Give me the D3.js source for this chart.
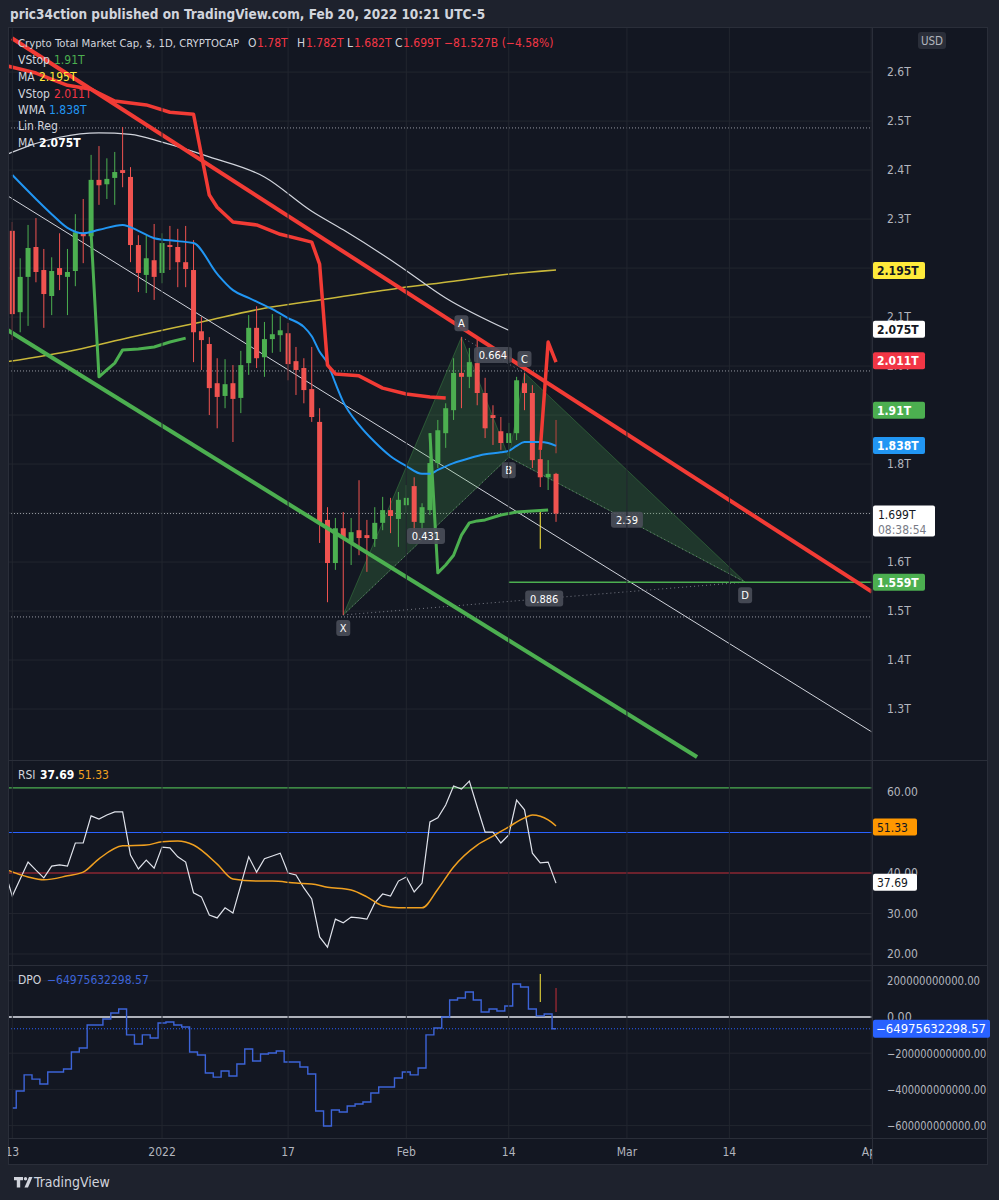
<!DOCTYPE html>
<html>
<head>
<meta charset="utf-8">
<script src="https://cdn.jsdelivr.net/npm/d3@7"></script>
<style>
  body { margin: 0; background: #1e222d; }
  text { font-family: 'Liberation Sans Narrow', 'DejaVu Sans Condensed', 'Roboto', sans-serif; }
</style>
</head>
<body>
<svg id="chart"></svg>
<script>
// ---- data (prices in trillions, index 0 = Dec 13 2021, one candle per day)
const startDate = '2021-12-13'
const candles = [ // open, high, low, close
  [2.276, 2.294, 2.053, 2.106], [2.110, 2.220, 2.069, 2.182], [2.182, 2.288, 2.082, 2.241], [2.243, 2.302, 2.171, 2.192],
  [2.196, 2.239, 2.078, 2.147], [2.143, 2.222, 2.104, 2.194], [2.200, 2.271, 2.155, 2.186], [2.182, 2.239, 2.104, 2.192],
  [2.194, 2.310, 2.163, 2.273], [2.271, 2.341, 2.210, 2.265], [2.265, 2.431, 2.257, 2.380], [2.380, 2.449, 2.329, 2.369],
  [2.371, 2.424, 2.341, 2.382], [2.384, 2.437, 2.329, 2.396], [2.400, 2.488, 2.365, 2.394], [2.386, 2.406, 2.212, 2.247],
  [2.247, 2.267, 2.151, 2.190], [2.186, 2.267, 2.149, 2.220], [2.216, 2.290, 2.135, 2.182], [2.190, 2.271, 2.169, 2.251],
  [2.247, 2.286, 2.196, 2.243], [2.243, 2.280, 2.161, 2.212], [2.212, 2.286, 2.161, 2.198], [2.196, 2.257, 2.008, 2.069],
  [2.071, 2.100, 1.992, 2.053], [2.045, 2.059, 1.900, 1.955], [1.965, 2.016, 1.873, 1.937], [1.939, 2.014, 1.914, 1.963],
  [1.965, 2.002, 1.845, 1.933], [1.935, 2.031, 1.904, 2.002], [2.006, 2.104, 1.982, 2.078], [2.078, 2.122, 1.996, 2.016],
  [2.018, 2.090, 1.978, 2.055], [2.055, 2.106, 2.027, 2.065], [2.063, 2.102, 2.029, 2.073], [2.067, 2.088, 1.971, 2.004],
  [2.010, 2.039, 1.941, 1.992], [1.996, 2.016, 1.924, 1.951], [1.953, 2.039, 1.886, 1.896], [1.886, 1.914, 1.639, 1.680],
  [1.686, 1.712, 1.518, 1.598], [1.598, 1.690, 1.584, 1.669], [1.669, 1.702, 1.492, 1.651], [1.641, 1.690, 1.594, 1.661],
  [1.665, 1.767, 1.614, 1.649], [1.655, 1.686, 1.580, 1.649], [1.647, 1.712, 1.631, 1.680], [1.680, 1.733, 1.665, 1.706],
  [1.706, 1.731, 1.659, 1.694], [1.688, 1.743, 1.631, 1.727], [1.716, 1.757, 1.700, 1.731], [1.755, 1.773, 1.659, 1.682],
  [1.680, 1.720, 1.665, 1.712], [1.706, 1.863, 1.696, 1.802], [1.802, 1.890, 1.792, 1.869], [1.863, 1.924, 1.833, 1.914],
  [1.910, 2.016, 1.890, 1.986], [1.986, 2.059, 1.914, 1.978], [1.978, 2.037, 1.955, 2.008], [2.006, 2.057, 1.920, 1.945],
  [1.945, 1.976, 1.853, 1.873], [1.900, 1.920, 1.839, 1.894], [1.867, 1.896, 1.829, 1.843], [1.843, 1.884, 1.814, 1.863],
  [1.863, 1.978, 1.849, 1.971], [1.965, 1.986, 1.910, 1.945], [1.945, 1.961, 1.792, 1.808], [1.810, 1.829, 1.753, 1.773],
  [1.773, 1.808, 1.747, 1.780], [1.780, 1.782, 1.682, 1.699]
]
// indicator samples: [candle index, value]
const wma = [[0,2.390],[3,2.341],[5,2.310],[7,2.282],[9,2.271],[11,2.278],[14,2.288],[16,2.276],[18,2.261],[21,2.255],
  [23,2.251],[26,2.188],[28,2.155],[30,2.139],[33,2.116],[35,2.098],[37,2.080],[38,2.061],[39,2.029],[40,2.006],[41,1.965],
  [42,1.927],[44,1.880],[46,1.845],[48,1.816],[50,1.796],[52,1.780],[53,1.780],[54,1.788],[56,1.802],[58,1.812],[60,1.820],
  [62,1.824],[63,1.827],[64,1.837],[65,1.845],[67,1.845],[68,1.843],[69,1.837]]
const maYellow = [[-1,2.008],[8,2.033],[15,2.059],[24,2.090],[32,2.118],[39,2.135],[49,2.159],[56,2.173],[62,2.186],[69,2.196]]
const maWhite = [[-1,2.430],[2,2.449],[6,2.467],[11,2.476],[15,2.473],[19,2.457],[25,2.427],[32,2.386],[38,2.316],[42,2.278],
  [49,2.206],[55,2.139],[63,2.073]]
const vstopRed = [[-1,2.614],[3,2.598],[7,2.573],[10,2.565],[13,2.541],[17,2.533],[20,2.518],[23,2.514],[24,2.431],[25,2.349],
  [26,2.324],[28,2.294],[31,2.288],[34,2.269],[37,2.257],[38,2.253],[39,2.208],[40,2.002],[41,1.984],[44,1.980],[47,1.955],
  [50,1.943],[53,1.937],[55,1.935]]
const vstopRed2 = [[67,1.829],[68,2.049],[69,2.008]]
const vstopGreen = [[10,2.271],[11,1.978],[12,1.992],[13,2.006],[14,2.033],[16,2.035],[18,2.039],[20,2.049],[22,2.057]]
const vstopGreen2 = [[53,1.863],[54,1.578],[55,1.594],[56,1.614],[57,1.655],[58,1.680],[59,1.684],[60,1.686],[62,1.696],
  [64,1.702],[66,1.704],[68,1.706]]
const trendRed = [[-0.04,2.669],[109.1,1.539]]
const trendGreen = [[-0.55,2.073],[86.9,1.202]]
const linReg = [[-0.55,2.347],[109.1,1.253]]
const levelLines = [2.486, 1.990, 1.699, 1.488]
const markers = [[67,1.706,1.627,'#ffeb3b'],[69,1.890,1.822,'#b7463f']]
const pattern = [['X',42,1.492],['A',57,2.059],['B',63,1.814],['C',65,1.986],['D',93,1.559]]
const ratios = [['0.431','X','B'],['0.664','A','C'],['2.59','B','D'],['0.886','X','D']]
const priceTicks = [2.6,2.5,2.4,2.3,2.2,2.1,2.0,1.9,1.8,1.7,1.6,1.5,1.4,1.3]
const priceLabels = [2.6,2.5,2.4,2.3,2.1,2.0,1.8,1.6,1.5,1.4,1.3]
const priceTags = [[2.195,'2.195T','#ffeb3b','#131722'],[2.075,'2.075T','#ffffff','#131722'],[2.011,'2.011T','#f23645','#ffffff'],
  [1.91,'1.91T','#4caf50','#ffffff'],[1.838,'1.838T','#2196f3','#ffffff'],[1.559,'1.559T','#4caf50','#ffffff']]
const timeTicks = [['2021-12-13','13'],['2022-01-01','2022'],['2022-01-17','17'],['2022-02-01','Feb'],['2022-02-14','14'],
  ['2022-03-01','Mar'],['2022-03-14','14'],['2022-04-01','Apr']]
// RSI: first value is Dec 12
const rsi = [40.7,34.3,38.5,42.7,40.7,38.8,41.7,42.0,41.7,47.4,47.4,54.1,53.3,54.3,55.1,55.1,44.4,41.0,43.2,41.2,46.4,46.2,
  44.0,42.7,35.1,34.1,29.6,28.9,31.4,30.1,37.0,44.0,40.2,43.5,44.2,44.9,40.0,39.5,36.3,33.6,24.2,21.7,28.6,27.7,29.1,28.9,
  28.6,32.6,34.8,34.3,38.0,39.0,35.3,37.5,52.6,53.6,56.8,61.5,60.7,62.7,56.3,50.1,50.1,47.4,49.4,58.0,55.6,44.9,42.5,42.7,37.5]
const rsiMa = [[-1,41.0],[2,39.0],[4,38.3],[7,39.3],[9,40.2],[11,43.5],[14,46.7],[17,46.9],[19,47.7],[21,47.9],[23,46.9],
  [26,42.2],[28,38.5],[31,38.0],[33,38.0],[36,37.5],[38,37.3],[40,36.5],[43,35.8],[45,34.1],[47,31.9],[49,31.4],[52,31.4],
  [54,36.0],[56,41.5],[59,46.9],[61,49.1],[63,51.4],[65,53.6],[66,54.3],[68,53.1],[69,51.6]]
const rsiLevels = [[61,'#4caf50'],[50,'#2962ff'],[40,'#c62f38']]
const rsiTicks = [60,40,30,20]
// DPO in billions
const dpo = [-503,-409,-320,-343,-370,-304,-304,-287,-193,-171,-44,-44,-11,22,44,-99,-149,-99,-116,-33,-28,-44,-55,-193,
  -210,-309,-332,-298,-326,-260,-177,-243,-204,-199,-188,-249,-249,-276,-315,-519,-602,-514,-525,-492,-481,-470,-420,-387,
  -387,-337,-304,-320,-282,-99,-61,0,94,105,138,94,28,44,33,61,182,166,44,6,17,-64.98]
const dpoTicks = [200,0,-200,-400,-600]
const dpoMarkers = [[67,237.6,82.9,'#ffeb3b'],[69,160,27.6,'#c62f38']]

// ---- layout
const W = 999, H = 1200
const L = 8, R = 872, AR = 988
const mainTop = 27, mainBot = 760, rsiTop = 761, rsiBot = 965, dpoTop = 966, dpoBot = 1138, timeBot = 1165
const up = '#4caf50', down = '#f05350', textCol = '#d1d4dc', axisCol = '#b2b5be', gridCol = '#22262f'

const x = d3.scaleLinear().domain([-0.546, 109.1]).range([L, R])
const y = d3.scaleLinear().domain([1.196, 2.692]).range([mainBot, mainTop])
const yR = d3.scaleLinear().domain([17.28, 67.65]).range([rsiBot, rsiTop])
const yD = d3.scaleLinear().domain([-668.5, 281.8]).range([dpoBot, dpoTop])
const day0 = new Date(startDate)
const dayIdx = s => d3.utcDay.count(day0, new Date(s))

const svg = d3.select('#chart').attr('width', W).attr('height', H)
svg.append('rect').attr('width', W).attr('height', H).attr('fill', '#1e222d')
svg.append('rect').attr('x', L).attr('y', mainTop).attr('width', AR - L).attr('height', timeBot - mainTop).attr('fill', '#131722')

const defs = svg.append('defs')
function clip(id, top, bot) {
  defs.append('clipPath').attr('id', id).append('rect').attr('x', L).attr('y', top).attr('width', R - L).attr('height', bot - top)
}
clip('cMain', mainTop, mainBot); clip('cRsi', rsiTop, rsiBot); clip('cDpo', dpoTop, dpoBot); clip('cTime', dpoBot, timeBot)

const main = svg.append('g').attr('clip-path', 'url(#cMain)')
const rsiG = svg.append('g').attr('clip-path', 'url(#cRsi)')
const dpoG = svg.append('g').attr('clip-path', 'url(#cDpo)')

// grid
timeTicks.forEach(t => {
  svg.append('line').attr('x1', x(dayIdx(t[0]))).attr('x2', x(dayIdx(t[0]))).attr('y1', mainTop).attr('y2', dpoBot)
    .attr('stroke', gridCol)
})
main.selectAll('.hg').data(priceTicks).join('line').attr('x1', L).attr('x2', R)
  .attr('y1', d => y(d)).attr('y2', d => y(d)).attr('stroke', gridCol)
rsiG.selectAll('.hg').data([30, 20]).join('line').attr('x1', L).attr('x2', R)
  .attr('y1', d => yR(d)).attr('y2', d => yR(d)).attr('stroke', gridCol)
dpoG.selectAll('.hg').data(dpoTicks).join('line').attr('x1', L).attr('x2', R)
  .attr('y1', d => yD(d)).attr('y2', d => yD(d)).attr('stroke', gridCol)

// separators
const sep = '#2a2e39'
;[mainBot + 0.5, rsiBot + 0.5, dpoBot + 0.5].forEach(v => {
  svg.append('line').attr('x1', L).attr('x2', AR).attr('y1', v).attr('y2', v).attr('stroke', sep)
})
svg.append('line').attr('x1', R + 0.5).attr('x2', R + 0.5).attr('y1', mainTop).attr('y2', timeBot).attr('stroke', sep)
svg.append('rect').attr('x', L + 0.5).attr('y', mainTop + 0.5).attr('width', AR - L - 1).attr('height', timeBot - mainTop - 1)
  .attr('fill', 'none').attr('stroke', sep)

// ---- main pane
const ln = d3.line().x(d => x(d[0])).y(d => y(d[1]))
const smooth = d3.line().x(d => x(d[0])).y(d => y(d[1])).curve(d3.curveMonotoneX)

main.selectAll('.lvl').data(levelLines).join('line').attr('x1', L).attr('x2', R)
  .attr('y1', d => y(d)).attr('y2', d => y(d)).attr('stroke', '#9598a1').attr('stroke-dasharray', '1,2')

main.append('path').attr('d', smooth(maYellow)).attr('fill', 'none').attr('stroke', '#c9b83a').attr('stroke-width', 1.5)
main.append('path').attr('d', smooth(maWhite)).attr('fill', 'none').attr('stroke', '#d1d4dc').attr('stroke-width', 1.2)
main.append('path').attr('d', ln(linReg)).attr('fill', 'none').attr('stroke', '#d1d4dc').attr('stroke-width', 1)

// harmonic pattern
const pt = {}
pattern.forEach(p => { pt[p[0]] = [x(p[1]), y(p[2])] })
;[['X','A','B'],['B','C','D']].forEach(tri => {
  main.append('polygon').attr('points', tri.map(k => pt[k].join(',')).join(' '))
    .attr('fill', '#4caf50').attr('fill-opacity', 0.22).attr('stroke', '#4caf50').attr('stroke-opacity', 0.35)
})
ratios.forEach(r => {
  main.append('line').attr('x1', pt[r[1]][0]).attr('y1', pt[r[1]][1]).attr('x2', pt[r[2]][0]).attr('y2', pt[r[2]][1])
    .attr('stroke', '#787b86').attr('stroke-dasharray', '1,3')
})
main.append('line').attr('x1', x(63)).attr('x2', R).attr('y1', y(1.559)).attr('y2', y(1.559)).attr('stroke', '#4caf50').attr('stroke-width', 1.5)

// candles
const cg = main.append('g')
cg.selectAll('line').data(candles).join('line')
  .attr('x1', (d, i) => x(i)).attr('x2', (d, i) => x(i))
  .attr('y1', d => y(d[1])).attr('y2', d => y(d[2]))
  .attr('stroke', d => d[3] >= d[0] ? up : down).attr('stroke-width', 1)
cg.selectAll('rect').data(candles).join('rect')
  .attr('x', (d, i) => x(i) - 2.5).attr('width', 5)
  .attr('y', d => y(Math.max(d[0], d[3])))
  .attr('height', d => Math.max(1, Math.abs(y(d[0]) - y(d[3]))))
  .attr('fill', d => d[3] >= d[0] ? up : down)
markers.forEach(m => {
  main.append('line').attr('x1', x(m[0])).attr('x2', x(m[0])).attr('y1', y(m[1])).attr('y2', y(m[2])).attr('stroke', m[3])
})

main.append('path').attr('d', smooth(wma)).attr('fill', 'none').attr('stroke', '#2196f3').attr('stroke-width', 2)
;[vstopGreen, vstopGreen2].forEach(s => {
  main.append('path').attr('d', ln(s)).attr('fill', 'none').attr('stroke', '#4caf50').attr('stroke-width', 3).attr('stroke-linejoin', 'round')
})
;[vstopRed, vstopRed2].forEach(s => {
  main.append('path').attr('d', ln(s)).attr('fill', 'none').attr('stroke', '#f23b35').attr('stroke-width', 3.5).attr('stroke-linejoin', 'round')
})
main.append('path').attr('d', ln(trendRed)).attr('stroke', '#f23b35').attr('stroke-width', 4)
main.append('path').attr('d', ln(trendGreen)).attr('stroke', '#4caf50').attr('stroke-width', 4)

// pattern labels
function chip(g, cx, cy, txt) {
  const w = txt.length * 6 + 8
  g.append('rect').attr('x', cx - w / 2).attr('y', cy - 8).attr('width', w).attr('height', 16).attr('rx', 3)
    .attr('fill', '#4a4e59').attr('fill-opacity', 0.9)
  g.append('text').attr('x', cx).attr('y', cy + 4).attr('text-anchor', 'middle').attr('fill', '#ffffff')
    .attr('font-size', 11).text(txt)
}
ratios.forEach(r => {
  chip(main, (pt[r[1]][0] + pt[r[2]][0]) / 2, (pt[r[1]][1] + pt[r[2]][1]) / 2, r[0])
})
const below = { X: 1, B: 1, D: 1 }
pattern.forEach(p => {
  const c = pt[p[0]]
  chip(main, c[0], c[1] + (below[p[0]] ? 13 : -14), p[0])
})

// legends: [text, colour, x position, weight]
function legendLine(g, yy, parts) {
  const t = g.append('text').attr('x', parts[0][2]).attr('y', yy)
  parts.forEach(p => t.append('tspan').attr('x', p[2]).attr('fill', p[1]).attr('font-weight', p[3] || 400).text(p[0]))
}
const legend = svg.append('g').attr('font-size', 12)
const red = '#f23645'
legend.append('text').attr('x', 18).attr('y', 47).attr('fill', textCol).attr('font-size', 11.2)
  .attr('textLength', 221).attr('lengthAdjust', 'spacingAndGlyphs').text('Crypto Total Market Cap, $, 1D, CRYPTOCAP')
legendLine(legend, 47, [['O', textCol, 248], ['1.78T', red, 257],
  ['H', textCol, 297], ['1.782T', red, 306], ['L', textCol, 347], ['1.682T', red, 354], ['C', textCol, 395], ['1.699T', red, 403],
  ['−81.527B (−4.58%)', red, 444]])
legendLine(legend, 64, [['VStop', textCol, 18], ['1.91T', '#4caf50', 54]])
legendLine(legend, 81, [['MA', textCol, 18], ['2.195T', '#ffeb3b', 39]])
legendLine(legend, 98, [['VStop', textCol, 18], ['2.011T', red, 54]])
legendLine(legend, 114, [['WMA', textCol, 18], ['1.838T', '#2196f3', 49]])
legendLine(legend, 130, [['Lin Reg', textCol, 18]])
legendLine(legend, 147, [['MA', textCol, 18], ['2.075T', '#ffffff', 39, 700]])
legendLine(legend, 779, [['RSI', textCol, 18], ['37.69', '#ffffff', 40, 700], ['51.33', '#f0a020', 78]])
legendLine(legend, 984, [['DPO', textCol, 18], ['−64975632298.57', '#3d64d8', 47]])

// ---- right axes
function styleAxis(g, fit) {
  g.select('.domain').remove()
  g.selectAll('text').attr('fill', axisCol).attr('font-size', 12).attr('font-family', null)
  if (fit) g.selectAll('text').each(function () {
    const n = this.textContent.length
    d3.select(this).attr('textLength', n * 6.2).attr('lengthAdjust', 'spacingAndGlyphs')
  })
}
styleAxis(svg.append('g').attr('transform', `translate(${R + 12},0)`)
  .call(d3.axisRight(y).tickValues(priceLabels).tickSize(0).tickFormat(d => d3.format('.1f')(d) + 'T')))
svg.append('rect').attr('x', 918).attr('y', 32).attr('width', 28).attr('height', 17).attr('rx', 3).attr('fill', '#2a2e39')
svg.append('text').attr('x', 932).attr('y', 45).attr('text-anchor', 'middle').attr('fill', axisCol).attr('font-size', 11.5).text('USD')

function tag(yy, txt, bg, fg, w, bold) {
  svg.append('rect').attr('x', R + 1).attr('y', yy - 8.5).attr('width', w).attr('height', 17).attr('rx', 2).attr('fill', bg)
  svg.append('text').attr('x', R + 5).attr('y', yy + 4.5).attr('fill', fg).attr('font-size', 12)
    .attr('font-weight', bold ? 700 : 400).text(txt)
}
priceTags.forEach(t => tag(y(t[0]), t[1], t[2], t[3], 52, true))
svg.append('rect').attr('x', R + 1).attr('y', y(1.699) - 8).attr('width', 62).attr('height', 31).attr('rx', 2).attr('fill', '#ffffff')
svg.append('text').attr('x', R + 6).attr('y', y(1.699) + 5).attr('fill', '#131722').attr('font-size', 12).text('1.699T')
svg.append('text').attr('x', R + 6).attr('y', y(1.699) + 20).attr('fill', '#787b86').attr('font-size', 12).text('08:38:54')

// ---- RSI pane
rsiG.selectAll('.lv').data(rsiLevels).join('line').attr('x1', L).attr('x2', R)
  .attr('y1', d => yR(d[0])).attr('y2', d => yR(d[0])).attr('stroke', d => d[1]).attr('stroke-width', 1.2)
const rl = d3.line().x((d, i) => x(i - 1)).y(d => yR(d))
rsiG.append('path').attr('d', rl(rsi)).attr('fill', 'none').attr('stroke', '#e0e3eb').attr('stroke-width', 1.2)
const rml = d3.line().x(d => x(d[0])).y(d => yR(d[1])).curve(d3.curveMonotoneX)
rsiG.append('path').attr('d', rml(rsiMa)).attr('fill', 'none').attr('stroke', '#f0a020').attr('stroke-width', 1.5)
styleAxis(svg.append('g').attr('transform', `translate(${R + 12},0)`)
  .call(d3.axisRight(yR).tickValues(rsiTicks).tickSize(0).tickFormat(d3.format('.2f'))))
tag(yR(51.33), '51.33', '#ff9800', '#131722', 44, false)
tag(yR(37.69), '37.69', '#ffffff', '#131722', 44, false)

// ---- DPO pane
dpoG.append('line').attr('x1', L).attr('x2', R).attr('y1', yD(0)).attr('y2', yD(0)).attr('stroke', '#e0e3eb').attr('stroke-width', 1.6)
dpoG.append('line').attr('x1', L).attr('x2', R).attr('y1', yD(-64.98)).attr('y2', yD(-64.98))
  .attr('stroke', '#2962ff').attr('stroke-dasharray', '1,2')
const dl = d3.line().x((d, i) => x(i)).y(d => yD(d)).curve(d3.curveStep)
dpoG.append('path').attr('d', dl(dpo)).attr('fill', 'none').attr('stroke', '#3d64d8').attr('stroke-width', 1.4)
dpoMarkers.forEach(m => {
  dpoG.append('line').attr('x1', x(m[0])).attr('x2', x(m[0])).attr('y1', yD(m[1])).attr('y2', yD(m[2])).attr('stroke', m[3])
})
styleAxis(svg.append('g').attr('transform', `translate(${R + 12},0)`)
  .call(d3.axisRight(yD).tickValues(dpoTicks).tickSize(0)
    .tickFormat(d => (d < 0 ? '−' : '') + d3.format('.2f')(Math.abs(d) * 1e9))), true)
svg.append('rect').attr('x', R + 1).attr('y', yD(-64.98) - 9).attr('width', 117).attr('height', 18).attr('rx', 2).attr('fill', '#2962ff')
svg.append('text').attr('x', R + 4).attr('y', yD(-64.98) + 4.5).attr('fill', '#ffffff').attr('font-size', 12)
  .attr('textLength', 110).attr('lengthAdjust', 'spacingAndGlyphs').text('−64975632298.57')

// ---- time axis
const tAxis = svg.append('g').attr('clip-path', 'url(#cTime)')
tAxis.selectAll('text').data(timeTicks).join('text')
  .attr('x', d => x(dayIdx(d[0]))).attr('y', 1156).attr('text-anchor', 'middle')
  .attr('fill', axisCol).attr('font-size', 12).text(d => d[1])

// ---- header & footer
svg.append('text').attr('x', 10).attr('y', 19).attr('fill', textCol).attr('font-size', 13.5).attr('font-weight', 700)
  .text('pric34ction published on TradingView.com, Feb 20, 2022 10:21 UTC-5')
const logo = svg.append('g').attr('fill', textCol)
logo.append('path').attr('d', 'M14,1177 h9 v3.2 h-2.8 v7.3 h-3.4 v-7.3 h-2.8 z')
logo.append('circle').attr('cx', 25.5).attr('cy', 1178.8).attr('r', 1.7)
logo.append('path').attr('d', 'M24.5,1187.5 L29,1177 h3.5 L28,1187.5 z')
svg.append('text').attr('x', 34).attr('y', 1187).attr('fill', textCol).attr('font-size', 14).text('TradingView')
</script>
</body>
</html>
